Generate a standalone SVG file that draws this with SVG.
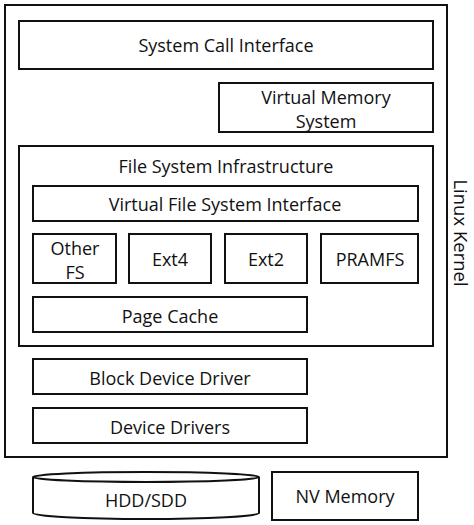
<svg xmlns="http://www.w3.org/2000/svg" width="474" height="525" viewBox="0 0 474 525">
<style>
.b { fill: #fff; stroke: #111; stroke-width: 2; }
text { font-family: "Open Sans", "Liberation Sans", sans-serif; font-size: 18px; fill: #111; text-anchor: middle; dominant-baseline: central; }
</style>
<rect width="474" height="525" fill="#fff"/>
<g id="linux-kernel">
<rect class="b" x="5" y="5" width="442" height="452"/>
<text transform="translate(461,233) rotate(90)" style="font-size:18.5px">Linux Kernel</text>
</g>
<g id="system-call-interface">
<rect class="b" x="19" y="21" width="414" height="48"/>
<text x="226" y="45">System Call Interface</text>
</g>
<g id="virtual-memory-system">
<rect class="b" x="219" y="83" width="214" height="49"/>
<text x="326" y="97">Virtual Memory</text>
<text x="326" y="121">System</text>
</g>
<g id="file-system-infrastructure">
<rect class="b" x="19" y="146" width="414" height="200"/>
<text x="226" y="166">File System Infrastructure</text>
</g>
<g id="vfs-interface">
<rect class="b" x="33" y="186" width="385" height="35"/>
<text x="225" y="204">Virtual File System Interface</text>
</g>
<g id="other-fs">
<rect class="b" x="33" y="234" width="83" height="49"/>
<text x="75" y="248">Other</text>
<text x="75" y="272">FS</text>
</g>
<g id="ext4">
<rect class="b" x="129" y="234" width="82" height="49"/>
<text x="170" y="259">Ext4</text>
</g>
<g id="ext2">
<rect class="b" x="225" y="234" width="82" height="49"/>
<text x="266" y="259">Ext2</text>
</g>
<g id="pramfs">
<rect class="b" x="321" y="234" width="97" height="49"/>
<text x="370" y="259">PRAMFS</text>
</g>
<g id="page-cache">
<rect class="b" x="33" y="297" width="274" height="35"/>
<text x="170" y="316">Page Cache</text>
</g>
<g id="block-device-driver">
<rect class="b" x="33" y="359" width="274" height="35"/>
<text x="170" y="378">Block Device Driver</text>
</g>
<g id="device-drivers">
<rect class="b" x="33" y="408" width="274" height="35"/>
<text x="170" y="427">Device Drivers</text>
</g>
<g id="hdd-sdd">
<path class="b" d="M33,477 L33,513 A113,6 0 0 0 259,513 L259,477"/>
<ellipse class="b" cx="146" cy="477" rx="113" ry="5"/>
<text x="146" y="500">HDD/SDD</text>
</g>
<g id="nv-memory">
<rect class="b" x="272" y="472" width="146" height="48"/>
<text x="345" y="496">NV Memory</text>
</g>
<g id="connectors"></g>
</svg>
